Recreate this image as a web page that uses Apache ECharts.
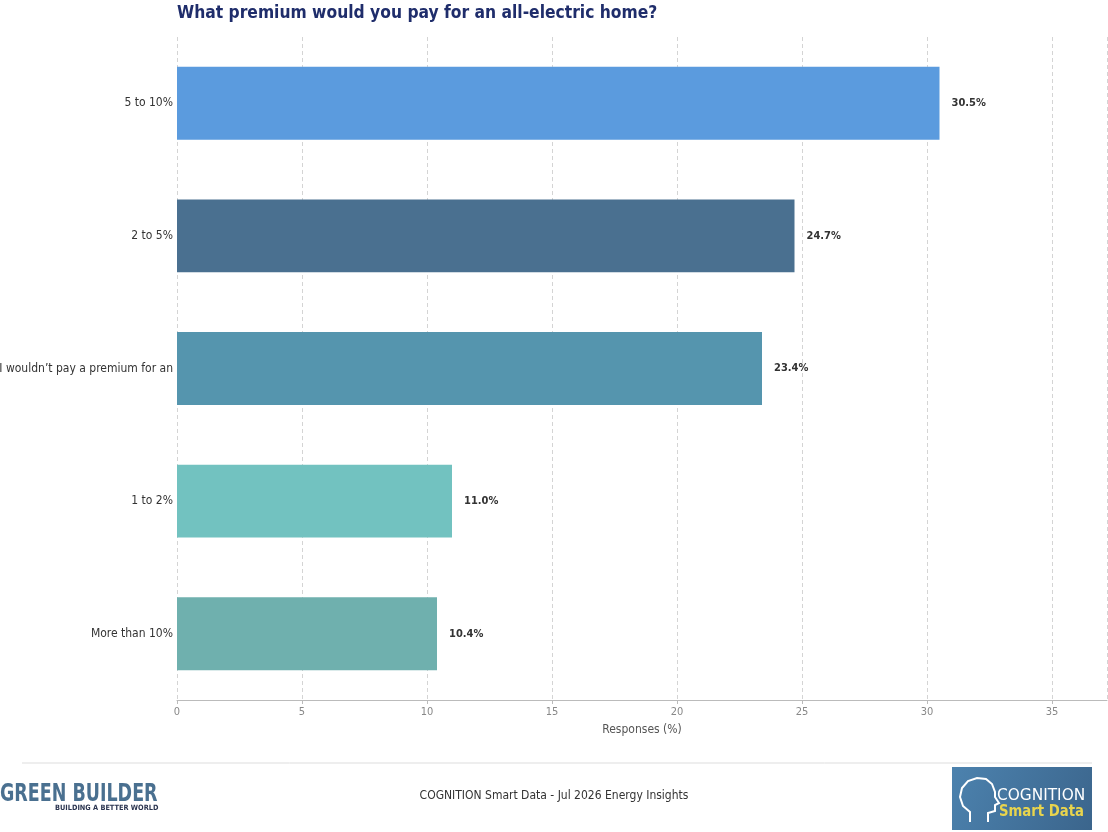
<!DOCTYPE html>
<html>
<head>
<meta charset="utf-8">
<script src="https://cdn.jsdelivr.net/npm/echarts@6/dist/echarts.min.js"></script>
<style>
html,body{margin:0;padding:0;background:#fff;}
#chart{width:1108px;height:832px;}
</style>
</head>
<body>
<div id="chart"></div>
<script>
const categories = ['5 to 10%', '2 to 5%', 'I wouldn\u2019t pay a premium for an', '1 to 2%', 'More than 10%'];
const values = [30.5, 24.7, 23.4, 11.0, 10.4];
const barColors = ['#5B9BDE', '#4A7090', '#5595AE', '#72C2C0', '#6FB0AE'];
const xTicks = [0, 5, 10, 15, 20, 25, 30, 35];

const FONT = '"DejaVu Sans Condensed", "DejaVu Sans", sans-serif';
const chart = echarts.init(document.getElementById('chart'), null, {renderer: 'canvas'});
chart.setOption({
  animation: false,
  backgroundColor: '#ffffff',
  textStyle: {fontFamily: FONT},
  title: {
    text: 'What premium would you pay for an all-electric home?',
    left: 172, top: 0,
    textStyle: {fontFamily: FONT, fontSize: 17.3, fontWeight: 'bold', color: '#1F2D6B'}
  },
  grid: {left: 177, right: 1, top: 37, bottom: 132, containLabel: false, outerBoundsMode: 'none'},
  xAxis: {
    type: 'value', min: 0, max: 37.2, interval: 5,
    name: 'Responses (%)', nameLocation: 'middle', nameGap: 24,
    nameTextStyle: {fontFamily: FONT, fontSize: 12, color: '#555'},
    axisLine: {show: true, lineStyle: {color: '#bbb'}},
    axisTick: {show: true, lineStyle: {color: '#bbb'}, length: 4},
    axisLabel: {
      fontFamily: FONT, fontSize: 11, color: '#888', margin: 7,
      showMaxLabel: false,
      formatter: v => xTicks.indexOf(v) >= 0 ? String(v) : ''
    },
    splitLine: {show: true, lineStyle: {color: '#d4d4d4', type: [4, 3], width: 1}}
  },
  yAxis: {
    type: 'category', data: categories, inverse: true,
    axisLine: {show: false}, axisTick: {show: false},
    axisLabel: {fontFamily: FONT, fontSize: 12, color: '#333', margin: 4}
  },
  series: [{
    type: 'bar',
    barWidth: '55%',
    data: values.map((v, i) => ({value: v, itemStyle: {color: barColors[i]}})),
    label: {
      show: true, position: 'right', distance: 12,
      formatter: p => p.value.toFixed(1) + '%',
      fontFamily: FONT, fontSize: 11, fontWeight: 'bold', color: '#333'
    }
  }],
  graphic: [
    {type: 'line', shape: {x1: 22, y1: 763, x2: 1092, y2: 763}, style: {stroke: '#dddddd', lineWidth: 1}},
    {type: 'text', left: 'center', top: 790, style: {text: 'COGNITION Smart Data - Jul 2026 Energy Insights', font: '12px ' + FONT, fill: '#333'}},
    {type: 'text', x: 0, y: 783, scaleX: 0.81, style: {text: 'GREEN BUILDER', font: 'bold 24px ' + FONT, fill: '#4A7090'}},
    {type: 'text', x: 55, y: 805, style: {text: 'BUILDING A BETTER WORLD', font: 'bold 7.3px ' + FONT, fill: '#2B3550'}},
    {type: 'rect', shape: {x: 952, y: 767, width: 140, height: 63},
     style: {fill: new echarts.graphic.LinearGradient(0, 0, 1, 1, [{offset: 0, color: '#4C82AE'}, {offset: 1, color: '#3B658C'}])}},
    {type: 'polyline', shape: {points: [[970,822],[970,812],[963,806],[960,797],[962,788],[968,781],[977,778],[986,779],[992,784],[995,792],[995,797],[999,803],[995,805],[995,811],[988,813],[988,822]]},
     style: {fill: 'none', stroke: '#ffffff', lineWidth: 2}},
    {type: 'text', x: 997, y: 788, scaleX: 0.96, style: {text: 'COGNITION', font: '16px "DejaVu Sans", sans-serif', fill: '#ffffff'}},
    {type: 'text', x: 999, y: 804, scaleX: 0.92, style: {text: 'Smart Data', font: 'bold 16px ' + FONT, fill: '#E8D44D'}}
  ]
});
</script>
</body>
</html>
